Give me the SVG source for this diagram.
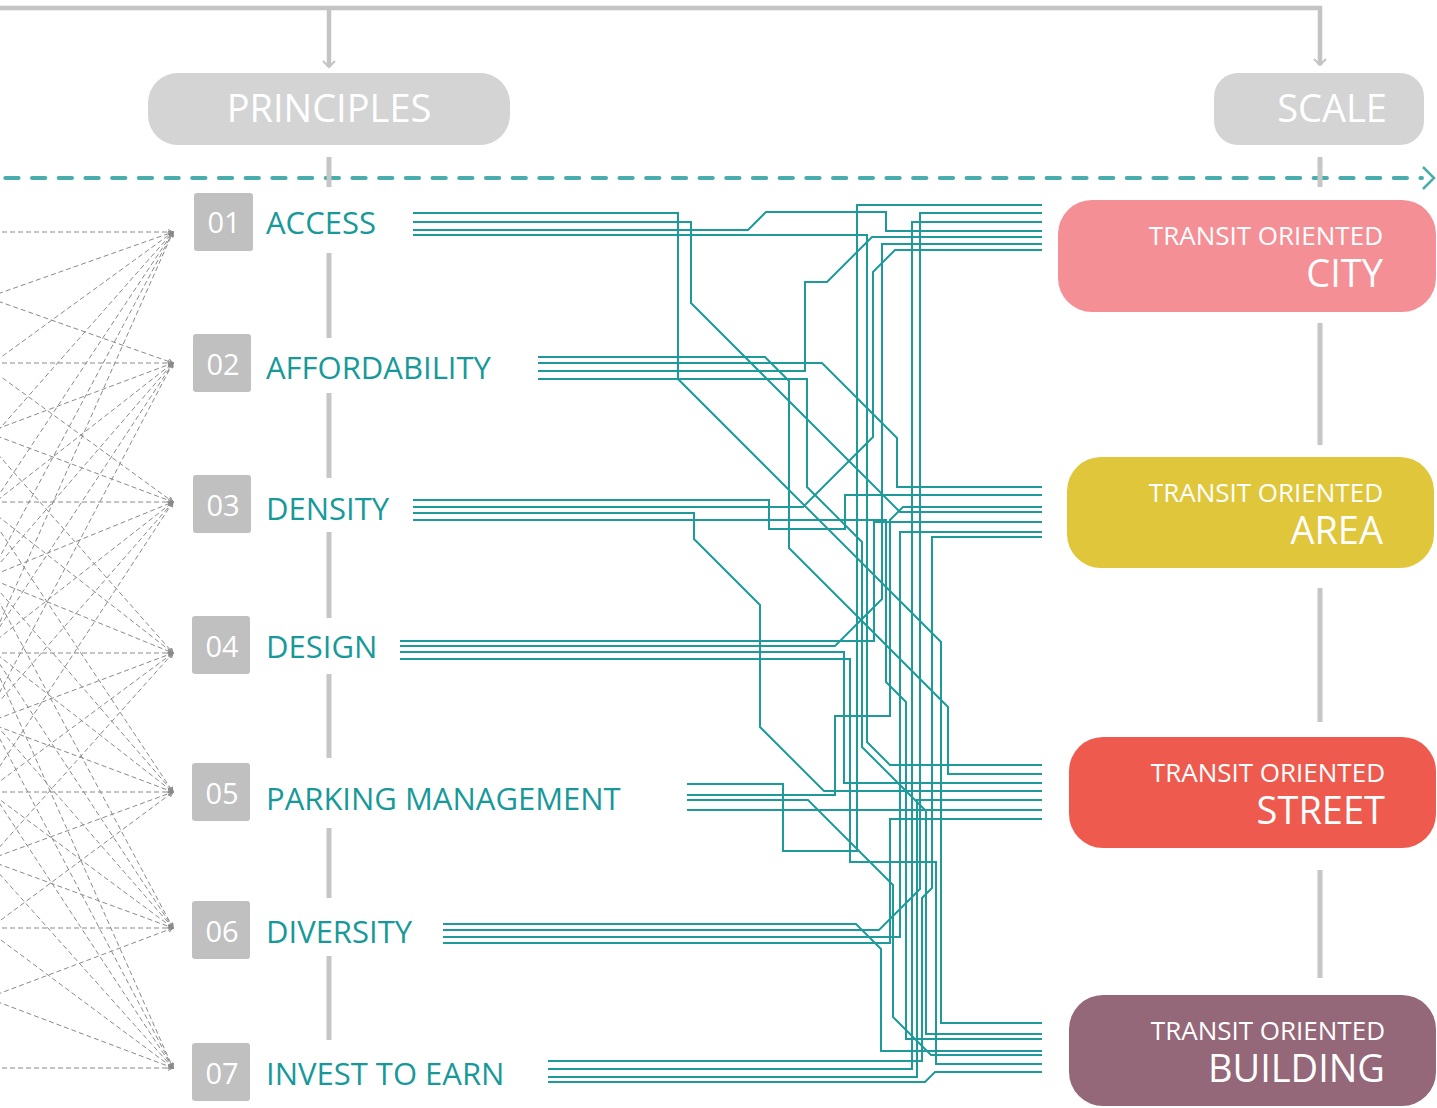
<svg xmlns="http://www.w3.org/2000/svg" width="1437" height="1108" viewBox="0 0 1437 1108">
<defs>
<style>
.gray{stroke:#c4c4c4;stroke-width:4.5;fill:none}
.chev{stroke:#c4c4c4;stroke-width:2;fill:none}
.spine{stroke:#c6c6c6;stroke-width:5;fill:none}
.fan line{stroke:#8a8a8a;stroke-width:1;stroke-dasharray:5 3;fill:none;marker-end:url(#fa)}
.net path{stroke:#1f9a9a;stroke-width:2;fill:none}
.hdr{fill:#d4d4d4}
.hdrt{font-family:"Open Sans","Liberation Sans",sans-serif;font-size:38px;fill:#ffffff}
.num{fill:#c0c0c0}
.numt{font-family:"Open Sans","Liberation Sans",sans-serif;font-size:29px;fill:#ffffff;text-anchor:middle}
.lbl{font-family:"Open Sans","Liberation Sans",sans-serif;font-size:31px;fill:#17999a}
.st{font-family:"Open Sans","Liberation Sans",sans-serif;fill:#ffffff;text-anchor:end}
.sm{font-size:26px}
.big{font-size:38px}
</style>
<marker id="fa" markerUnits="userSpaceOnUse" markerWidth="6" markerHeight="6" refX="5" refY="3" orient="auto">
<path d="M0,0.5 L5,3 L0,5.5" fill="none" stroke="#8a8a8a" stroke-width="1"/>
</marker>
</defs>
<rect width="1437" height="1108" fill="#ffffff"/>

<g id="top-frame">
<path class="gray" d="M0,8 H1320 V65"/>
<path class="gray" d="M329,8 V67"/>
<path class="chev" d="M323,61 L329,67 L335,61"/>
<path class="chev" d="M1314,59 L1320,65 L1326,59"/>
</g>

<g id="timeline">
<line x1="5.3" y1="178" x2="1422" y2="178" stroke="#4aadad" stroke-width="4" stroke-linecap="round" stroke-dasharray="13.3 13.4"/>
<path d="M1423,167 L1434,178 L1423,189" fill="none" stroke="#4aadad" stroke-width="2.5"/>
</g>

<g id="spines">
<path class="spine" d="M329,157 V187 M329,253 V338 M329,393 V478 M329,532 V618 M329,674 V758 M329,828 V898 M329,956 V1040"/>
<path class="spine" d="M1320,157 V187 M1320,323 V445 M1320,588 V722 M1320,870 V978"/>
</g>

<g id="header-principles">
<rect class="hdr" x="148" y="73" width="362" height="72" rx="30"/>
<text class="hdrt" x="329" y="122" text-anchor="middle">PRINCIPLES</text>
</g>
<g id="header-scale">
<rect class="hdr" x="1214" y="73" width="210" height="72" rx="24"/>
<text class="hdrt" x="1387" y="122" text-anchor="end">SCALE</text>
</g>

<g class="fan" id="fan">
<line x1="-198" y1="232" x2="173" y2="232"/><line x1="-198" y1="363" x2="173" y2="232"/><line x1="-198" y1="502" x2="173" y2="232"/><line x1="-198" y1="653" x2="173" y2="232"/><line x1="-198" y1="792" x2="173" y2="232"/><line x1="-198" y1="928" x2="173" y2="232"/><line x1="-198" y1="1068" x2="173" y2="232"/>
<line x1="-198" y1="232" x2="173" y2="363"/><line x1="-198" y1="363" x2="173" y2="363"/><line x1="-198" y1="502" x2="173" y2="363"/><line x1="-198" y1="653" x2="173" y2="363"/><line x1="-198" y1="792" x2="173" y2="363"/><line x1="-198" y1="928" x2="173" y2="363"/><line x1="-198" y1="1068" x2="173" y2="363"/>
<line x1="-198" y1="232" x2="173" y2="502"/><line x1="-198" y1="363" x2="173" y2="502"/><line x1="-198" y1="502" x2="173" y2="502"/><line x1="-198" y1="653" x2="173" y2="502"/><line x1="-198" y1="792" x2="173" y2="502"/><line x1="-198" y1="928" x2="173" y2="502"/><line x1="-198" y1="1068" x2="173" y2="502"/>
<line x1="-198" y1="232" x2="173" y2="653"/><line x1="-198" y1="363" x2="173" y2="653"/><line x1="-198" y1="502" x2="173" y2="653"/><line x1="-198" y1="653" x2="173" y2="653"/><line x1="-198" y1="792" x2="173" y2="653"/><line x1="-198" y1="928" x2="173" y2="653"/><line x1="-198" y1="1068" x2="173" y2="653"/>
<line x1="-198" y1="232" x2="173" y2="792"/><line x1="-198" y1="363" x2="173" y2="792"/><line x1="-198" y1="502" x2="173" y2="792"/><line x1="-198" y1="653" x2="173" y2="792"/><line x1="-198" y1="792" x2="173" y2="792"/><line x1="-198" y1="928" x2="173" y2="792"/><line x1="-198" y1="1068" x2="173" y2="792"/>
<line x1="-198" y1="232" x2="173" y2="928"/><line x1="-198" y1="363" x2="173" y2="928"/><line x1="-198" y1="502" x2="173" y2="928"/><line x1="-198" y1="653" x2="173" y2="928"/><line x1="-198" y1="792" x2="173" y2="928"/><line x1="-198" y1="928" x2="173" y2="928"/><line x1="-198" y1="1068" x2="173" y2="928"/>
<line x1="-198" y1="232" x2="173" y2="1068"/><line x1="-198" y1="363" x2="173" y2="1068"/><line x1="-198" y1="502" x2="173" y2="1068"/><line x1="-198" y1="653" x2="173" y2="1068"/><line x1="-198" y1="792" x2="173" y2="1068"/><line x1="-198" y1="928" x2="173" y2="1068"/><line x1="-198" y1="1068" x2="173" y2="1068"/>
</g>

<g id="p01"><rect class="num" x="194" y="193" width="59" height="58" rx="3"/><text class="numt" x="224" y="233">01</text><text class="lbl" x="266" y="234">ACCESS</text></g>
<g id="p02"><rect class="num" x="193" y="334" width="58" height="58" rx="3"/><text class="numt" x="223" y="375">02</text><text class="lbl" x="266" y="379">AFFORDABILITY</text></g>
<g id="p03"><rect class="num" x="193" y="475" width="58" height="58" rx="3"/><text class="numt" x="223" y="516">03</text><text class="lbl" x="266" y="520">DENSITY</text></g>
<g id="p04"><rect class="num" x="192" y="616" width="58" height="58" rx="3"/><text class="numt" x="222" y="657">04</text><text class="lbl" x="266" y="658">DESIGN</text></g>
<g id="p05"><rect class="num" x="192" y="763" width="58" height="58" rx="3"/><text class="numt" x="222" y="804">05</text><text class="lbl" x="266" y="810">PARKING MANAGEMENT</text></g>
<g id="p06"><rect class="num" x="192" y="901" width="58" height="58" rx="3"/><text class="numt" x="222" y="942">06</text><text class="lbl" x="266" y="943">DIVERSITY</text></g>
<g id="p07"><rect class="num" x="192" y="1043" width="58" height="58" rx="3"/><text class="numt" x="222" y="1084">07</text><text class="lbl" x="266" y="1085">INVEST TO EARN</text></g>

<g class="net" id="connectors">
<path d="M413,213 H678 V379 L941,642 V1023 H1042"/>
<path d="M413,222 H691 V303 L900,512 H1042"/>
<path d="M413,230 H748 L766,212 H886 V231 H1042"/>
<path d="M413,235 H867 V742 L890,765 H1042"/>
<path d="M538,357 H765 L789,381 V548 L948,707 V774 H1042"/>
<path d="M538,363 H822 L897,438 V487 H1042"/>
<path d="M538,371 H805 V282 H827 L872,237 H1042"/>
<path d="M538,379 H807 V487 L862,542 V747 L926,811 V1034 H1042"/>
<path d="M413,500 H769 V529 H845 V495 H1042"/>
<path d="M413,507 H803 L873,437 V272 L895,250 H1042"/>
<path d="M413,513 H694 V539 L760,605 V727 L824,791 H1042"/>
<path d="M413,520 H886 V682 L906,702 V1039 H1042"/>
<path d="M400,641 H874 V522 H1042"/>
<path d="M400,646 H835 L882,599 V244 H1042"/>
<path d="M400,652 H844 V783 H1042"/>
<path d="M400,659 H850 V862 H936 V1064 H1042"/>
<path d="M687,784 H783 V851 H857 V205 H1042"/>
<path d="M687,795 H835 V716 H890 V520 L903,507 H1042"/>
<path d="M687,800 H808 L893,885 V1017 L931,1055 H1042"/>
<path d="M687,810 H1042"/>
<path d="M443,924 H856 L881,949 V1051 H1042"/>
<path d="M443,930 H879 L920,889 V213 H1042"/>
<path d="M443,937 H900 V532 H1042"/>
<path d="M443,943 H890 V819 H1042"/>
<path d="M548,1061 H922 V898 L932,888 V537 H1042"/>
<path d="M548,1069 H912 V222 H1042"/>
<path d="M548,1077 H917 V800 H1042"/>
<path d="M548,1082 H925 L935,1072 H1042"/>
</g>

<g id="s-city"><rect x="1058" y="200" width="378" height="112" rx="34" fill="#f58f96"/><text class="st sm" x="1383" y="245">TRANSIT ORIENTED</text><text class="st big" x="1383" y="287">CITY</text></g>
<g id="s-area"><rect x="1067" y="457" width="367" height="111" rx="34" fill="#e0c63b"/><text class="st sm" x="1383" y="502">TRANSIT ORIENTED</text><text class="st big" x="1383" y="544">AREA</text></g>
<g id="s-street"><rect x="1069" y="737" width="367" height="111" rx="34" fill="#ee5b4e"/><text class="st sm" x="1385" y="782">TRANSIT ORIENTED</text><text class="st big" x="1385" y="824">STREET</text></g>
<g id="s-building"><rect x="1069" y="995" width="367" height="111" rx="34" fill="#946878"/><text class="st sm" x="1385" y="1040">TRANSIT ORIENTED</text><text class="st big" x="1385" y="1082">BUILDING</text></g>
</svg>
